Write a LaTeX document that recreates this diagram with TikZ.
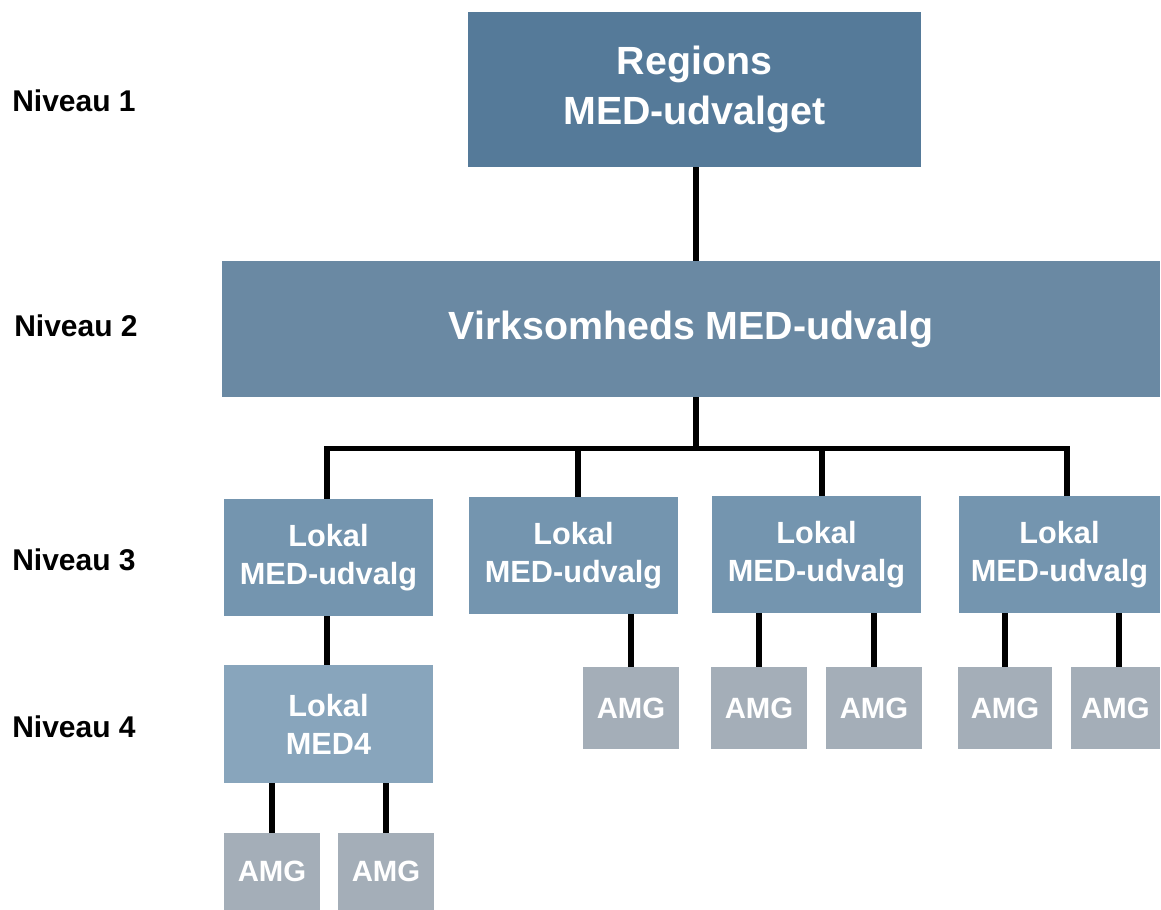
\documentclass[tikz,border=0pt]{standalone}
\usepackage{fontspec}
\setmainfont{Liberation Sans}
\definecolor{regblue}{HTML}{557A99}
\definecolor{virkblue}{HTML}{6A89A3}
\definecolor{lokblue}{HTML}{7495AF}
\definecolor{medblue}{HTML}{88A5BC}
\definecolor{amggray}{HTML}{A4AEB8}

\begin{document}
\begin{tikzpicture}[x=0.75pt, y=-0.75pt,
  box/.style={rectangle, inner sep=0pt, text=white, align=center},
  lok node/.style={box, fill=lokblue, minimum width=156.75pt, minimum height=87.75pt,
                   font=\bfseries\fontsize{23}{28.5}\selectfont},
  amg node/.style={box, fill=amggray, minimum width=72pt, minimum height=61.5pt,
                   font=\bfseries\fontsize{22}{26}\selectfont},
  level/.style={anchor=west, inner sep=0pt, font=\bfseries\fontsize{22.5}{27}\selectfont},
  link/.style={line width=4.4pt}]
\useasboundingbox (0,0) rectangle (1161,910);

% niveauer
\node[level] (n1) at (12,101) {Niveau 1};
\node[level] (n2) at (14,326) {Niveau 2};
\node[level] (n3) at (12,560) {Niveau 3};
\node[level] (n4) at (12,727) {Niveau 4};

% niveau 1 og 2
\node[box, fill=regblue, minimum width=339.75pt, minimum height=116.25pt,
      font=\bfseries\fontsize{29.5}{38}\selectfont] (reg) at (694.5,89.5) {Regions\\MED-udvalget};
\node[box, fill=virkblue, minimum width=703.5pt, minimum height=102pt,
      font=\bfseries\fontsize{29.5}{36}\selectfont] (virk) at (691,329) {Virksomheds MED-udvalg};

% niveau 3
\node[lok node] (lok1) at (328.5,557.5) {Lokal\\MED-udvalg};
\node[lok node] (lok2) at (573.5,555.5) {Lokal\\MED-udvalg};
\node[lok node] (lok3) at (816.5,554.5) {Lokal\\MED-udvalg};
\node[lok node, minimum width=150.75pt] (lok4) at (1059.5,554.5) {Lokal\\MED-udvalg};

% niveau 4
\node[lok node, fill=medblue, minimum height=88.5pt] (med4) at (328.5,724) {Lokal\\MED4};

\node[amg node] (a2) at (631,708) {AMG};
\node[amg node] (a31) at (759,708) {AMG};
\node[amg node] (a32) at (874,708) {AMG};
\node[amg node, minimum width=70.5pt] (a41) at (1005,708) {AMG};
\node[amg node, minimum width=66.75pt] (a42) at (1115.5,708) {AMG};
\node[amg node, minimum height=57.75pt] (a51) at (272,871.5) {AMG};
\node[amg node, minimum height=57.75pt] (a52) at (386,871.5) {AMG};

% forbindelser
\coordinate (bus) at (696,448.5);
\coordinate (d1) at (327,448.5);
\coordinate (d2) at (578,448.5);
\coordinate (d3) at (822,448.5);
\coordinate (d4) at (1067,448.5);

\draw[link] (reg.south -| bus) -- (virk.north -| bus);
\draw[link] (virk.south -| bus) -- (bus);
\draw[link, line cap=rect] (d1) -- (d4);
\draw[link] (d1) -- (d1 |- lok1.north);
\draw[link] (d2) -- (d2 |- lok2.north);
\draw[link] (d3) -- (d3 |- lok3.north);
\draw[link] (d4) -- (d4 |- lok4.north);

\draw[link] (lok1.south -| d1) -- (med4.north -| d1);
\draw[link] (lok2.south -| a2) -- (a2.north);
\draw[link] (lok3.south -| a31) -- (a31.north);
\draw[link] (lok3.south -| a32) -- (a32.north);
\draw[link] (lok4.south -| a41) -- (a41.north);
\draw[link] (lok4.south -| 1119,0) -- (a42.north -| 1119,0);
\draw[link] (med4.south -| a51) -- (a51.north);
\draw[link] (med4.south -| a52) -- (a52.north);

\end{tikzpicture}
\end{document}
